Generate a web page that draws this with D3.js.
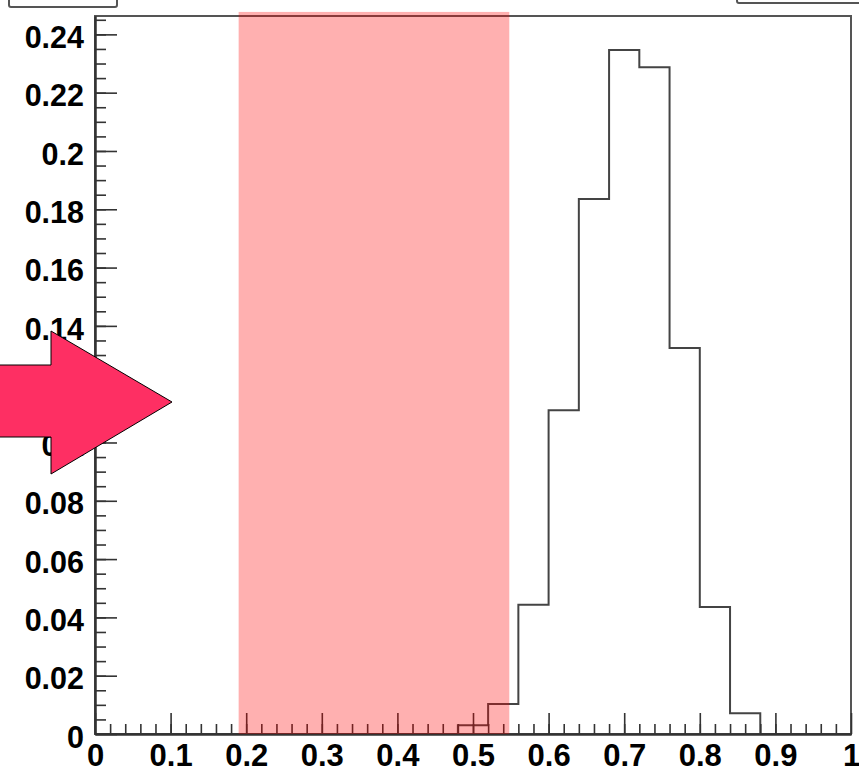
<!DOCTYPE html>
<html>
<head>
<meta charset="utf-8">
<script src="https://cdn.jsdelivr.net/npm/d3@7"></script>
<style>
  body { margin: 0; background: #fff; }
  svg { display: block; font-family: "Liberation Sans", Arial, sans-serif; font-weight: bold; }
</style>
</head>
<body>
<div id="chart"></div>
<script>
// histogram bins (0.04 wide) and normalised contents
const binEdges = [0, 0.04, 0.08, 0.12, 0.16, 0.2, 0.24, 0.28, 0.32, 0.36, 0.4, 0.44, 0.48,
                  0.52, 0.56, 0.6, 0.64, 0.68, 0.72, 0.76, 0.8, 0.84, 0.88, 0.92, 0.96, 1];
const binValues = [0, 0, 0, 0, 0, 0, 0, 0, 0, 0, 0, 0, 0.003,
                   0.0103, 0.0443, 0.1111, 0.1835, 0.2346, 0.2287, 0.1324, 0.0436, 0.0071, 0, 0, 0];

const xTicks = [0, 0.1, 0.2, 0.3, 0.4, 0.5, 0.6, 0.7, 0.8, 0.9, 1];
const xTickLabels = ['0', '0.1', '0.2', '0.3', '0.4', '0.5', '0.6', '0.7', '0.8', '0.9', '1'];
const yTicks = [0, 0.02, 0.04, 0.06, 0.08, 0.1, 0.12, 0.14, 0.16, 0.18, 0.2, 0.22, 0.24];
const yTickLabels = ['0', '0.02', '0.04', '0.06', '0.08', '0.1', '0.12', '0.14', '0.16', '0.18', '0.2', '0.22', '0.24'];

const yMax = 0.2463;
// shaded region (x range) and its top, a bit above the frame
const bandX = [0.19, 0.548];
const bandTop = 0.2477;

const width = 859, height = 770;
const margin = { left: 95, right: 8, top: 16, bottom: 36 };

const svg = d3.select('#chart').append('svg')
    .attr('width', width)
    .attr('height', height);

const x = d3.scaleLinear().domain([0, 1]).range([margin.left, width - margin.right]);
const y = d3.scaleLinear().domain([0, yMax]).range([height - margin.bottom, margin.top]);

// boxes cut off at the top edge
svg.append('rect')
    .attr('x', 9).attr('y', -20).attr('width', 108).attr('height', 27)
    .attr('rx', 2)
    .attr('fill', 'none').attr('stroke', '#555').attr('stroke-width', 2);
svg.append('rect')
    .attr('x', 737).attr('y', -20).attr('width', 140).attr('height', 23)
    .attr('rx', 2)
    .attr('fill', 'none').attr('stroke', '#555').attr('stroke-width', 2);

// frame
svg.append('rect')
    .attr('x', x(0)).attr('y', y(yMax))
    .attr('width', x(1) - x(0)).attr('height', y(0) - y(yMax))
    .attr('fill', 'none').attr('stroke', '#555').attr('stroke-width', 2);

// histogram outline
const pts = binValues.map((v, i) => [binEdges[i], v]);
pts.push([binEdges[binEdges.length - 1], binValues[binValues.length - 1]]);
const line = d3.line()
    .x(d => x(d[0]))
    .y(d => y(d[1]))
    .curve(d3.curveStepAfter);
svg.append('path')
    .datum(pts)
    .attr('fill', 'none')
    .attr('stroke', '#444')
    .attr('stroke-width', 2)
    .attr('d', line);

// x axis: major ticks with labels, minor ticks
const xAxis = d3.axisBottom(x)
    .tickValues(xTicks)
    .tickFormat((d, i) => xTickLabels[i])
    .tickSizeInner(-21)
    .tickSizeOuter(0)
    .tickPadding(10);
const gx = svg.append('g')
    .attr('transform', `translate(0,${y(0)})`)
    .call(xAxis);
gx.selectAll('text').style('font-size', '31px').attr('fill', '#000');

svg.append('g')
    .attr('transform', `translate(0,${y(0)})`)
    .call(d3.axisBottom(x).tickValues(d3.range(0.02, 1, 0.02)).tickFormat('').tickSizeInner(-10).tickSizeOuter(0));

// y axis
const yAxis = d3.axisLeft(y)
    .tickValues(yTicks)
    .tickFormat((d, i) => yTickLabels[i])
    .tickSizeInner(-22)
    .tickSizeOuter(0)
    .tickPadding(11);
const gy = svg.append('g')
    .attr('transform', `translate(${x(0)},0)`)
    .call(yAxis);
gy.selectAll('text').style('font-size', '30.5px').attr('fill', '#000').attr('dy', '0.43em');

svg.append('g')
    .attr('transform', `translate(${x(0)},0)`)
    .call(d3.axisLeft(y).tickValues(d3.range(0.005, yMax, 0.005)).tickFormat('').tickSizeInner(-11).tickSizeOuter(0));

svg.selectAll('.domain').attr('stroke', '#333').attr('stroke-width', 2);
svg.selectAll('.tick line').attr('stroke', '#333').attr('stroke-width', 1.6);

// translucent band over everything
svg.append('rect')
    .attr('x', x(bandX[0]))
    .attr('y', y(bandTop))
    .attr('width', x(bandX[1]) - x(bandX[0]))
    .attr('height', y(0) - y(bandTop))
    .attr('fill', 'rgb(255,0,0)')
    .attr('fill-opacity', 0.31);

// arrow annotation
svg.append('path')
    .attr('d', 'M-2,365 L51,365 L51,331 L172,402 L51,474 L51,437 L-2,437 Z')
    .attr('fill', '#fe2f63')
    .attr('stroke', '#000')
    .attr('stroke-width', 1);
</script>
</body>
</html>
